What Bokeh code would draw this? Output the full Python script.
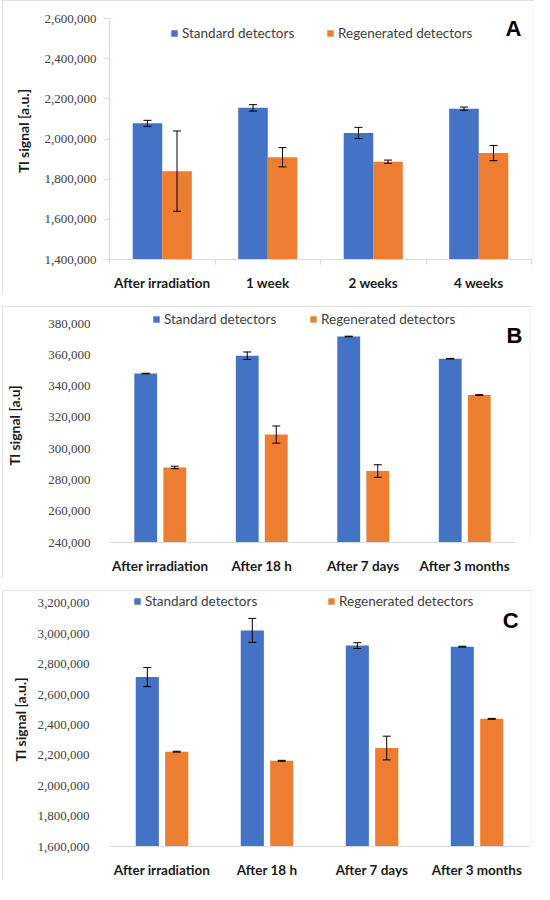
from bokeh.plotting import figure
from bokeh.models import (ColumnDataSource, FixedTicker, NumeralTickFormatter, Whisker,
                          TeeHead, Legend, LegendItem, Label, Range1d)
from bokeh.transform import dodge
from bokeh.layouts import column
from bokeh.embed import file_html
from bokeh.resources import INLINE

# ---------------- data ----------------
categories_a = ["After irradiation", "1 week", "2 weeks", "4 weeks"]
standard_a = [2078000, 2155000, 2030000, 2151000]
standard_a_err = [15000, 16000, 28000, 8000]
regenerated_a = [1840000, 1909000, 1887000, 1930000]
regenerated_a_err = [200000, 48000, 8000, 38000]
yticks_a = [1400000, 1600000, 1800000, 2000000, 2200000, 2400000, 2600000]

categories_b = ["After irradiation", "After 18 h", "After 7 days", "After 3 months"]
standard_b = [348000, 359400, 371700, 357500]
standard_b_err = [200, 2400, 200, 200]
regenerated_b = [288000, 309000, 285700, 334300]
regenerated_b_err = [800, 5500, 4000, 200]
yticks_b = [240000, 260000, 280000, 300000, 320000, 340000, 360000, 380000]

categories_c = ["After irradiation", "After 18 h", "After 7 days", "After 3 months"]
standard_c = [2715000, 3022000, 2922000, 2915000]
standard_c_err = [63000, 79000, 19000, 3000]
regenerated_c = [2224000, 2164000, 2248000, 2440000]
regenerated_c_err = [3000, 3000, 78000, 3000]
yticks_c = [1600000, 1800000, 2000000, 2200000, 2400000, 2600000, 2800000, 3000000, 3200000]

series_names = ["Standard detectors", "Regenerated detectors"]
panel_letters = ["A", "B", "C"]
ylabels = ["Tl signal [a.u.]", "Tl signal [a.u]", "Tl signal [a.u.]"]

BLUE = "#4472C4"
ORANGE = "#ED7D31"
SANS = "Lato"
SERIF = "Liberation Serif"
LEG_H = 20
EDGE = 2  # width of the light grey box drawn round each panel


def make_panel(cats, std, std_err, reg, reg_err, yticks, letter, ylabel, g):
    x0, y0, x1, y1 = g["box"]
    L, T, R, B = g["axes"]          # where the axes sit, page pixels
    Tf, Rf = y0 + EDGE, x1 - EDGE   # plotting frame reaches the panel box
    n = len(cats)
    band = (R - L) / n
    x_end = n + (Rf - R) / band
    per_px = (yticks[-1] - yticks[0]) / (B - T)
    y_end = yticks[-1] + (T - Tf) * per_px

    p = figure(x_range=Range1d(0, x_end), y_range=Range1d(yticks[0], y_end),
               width=x1 - x0, height=y1 - y0,
               output_backend="svg", toolbar_location=None,
               min_border_left=L - x0, min_border_right=x1 - Rf,
               min_border_top=Tf - y0, min_border_bottom=y1 - B,
               background_fill_color="white", border_fill_color="white",
               outline_line_color=None,
               styles={"outline": f"{EDGE}px solid #d9d9d9", "outline-offset": f"-{EDGE}px"})

    centers = [i + 0.5 for i in range(n)]
    src = ColumnDataSource(dict(
        x=centers, std=std, reg=reg,
        std_lo=[v - e for v, e in zip(std, std_err)],
        std_hi=[v + e for v, e in zip(std, std_err)],
        reg_lo=[v - e for v, e in zip(reg, reg_err)],
        reg_hi=[v + e for v, e in zip(reg, reg_err)],
    ))
    off, bw = g["offset"], g["bar_width"]
    r_std = p.vbar(x=dodge("x", -off), top="std", bottom=yticks[0],
                   width=bw, source=src, fill_color=BLUE, line_color=None)
    r_reg = p.vbar(x=dodge("x", off), top="reg", bottom=yticks[0],
                   width=bw, source=src, fill_color=ORANGE, line_color=None)
    for key, o in (("std", -off), ("reg", off)):
        w = Whisker(source=src, base=dodge("x", o),
                    upper=f"{key}_hi", lower=f"{key}_lo",
                    line_color="black", line_width=1, level="overlay",
                    upper_head=TeeHead(size=8, line_color="black", line_width=1),
                    lower_head=TeeHead(size=8, line_color="black", line_width=1))
        p.add_layout(w)

    # axes
    p.xgrid.grid_line_color = None
    p.ygrid.grid_line_color = None
    ya = p.yaxis[0]
    ya.ticker = FixedTicker(ticks=yticks)
    ya.formatter = NumeralTickFormatter(format="0,0")
    ya.bounds = (yticks[0], yticks[-1])
    ya.minor_tick_line_color = None
    ya.major_label_text_font = SERIF
    ya.major_label_text_font_size = "13px"
    ya.major_label_text_color = "#404040"
    ya.major_label_standoff = g["ylab_standoff"]
    if g["ticks"]:
        ya.axis_line_color = "#d9d9d9"
        ya.major_tick_line_color = "#d9d9d9"
        ya.major_tick_out = 5
        ya.major_tick_in = 0
    else:
        ya.axis_line_color = None
        ya.major_tick_line_color = None
    ya.axis_label = ylabel
    ya.axis_label_text_font = SANS
    ya.axis_label_text_font_style = "bold"
    ya.axis_label_text_font_size = "14px"
    ya.axis_label_text_color = "#1a1a1a"
    ya.axis_label_standoff = g["ytitle_standoff"]

    xa = p.xaxis[0]
    xa.ticker = FixedTicker(ticks=centers, minor_ticks=list(range(n + 1)))
    xa.major_label_overrides = {c: name for c, name in zip(centers, cats)}
    xa.bounds = (0, n)
    xa.axis_line_color = "#d9d9d9"
    xa.major_tick_line_color = None
    if g["ticks"]:
        xa.minor_tick_line_color = "#d9d9d9"
        xa.minor_tick_out = 5
        xa.minor_tick_in = 0
    else:
        xa.minor_tick_line_color = None
    xa.major_label_text_font = SANS
    xa.major_label_text_font_style = "bold"
    xa.major_label_text_font_size = "13.5px"
    xa.major_label_text_color = "#1a1a1a"
    xa.major_label_standoff = 9

    # legends (one per item, placed where the reference has them)
    for r, name, sq in ((r_std, series_names[0], g["leg"][0]), (r_reg, series_names[1], g["leg"][1])):
        lg = Legend(items=[LegendItem(label=name, renderers=[r])],
                    location=(sq - L, B - g["leg_y"] - LEG_H / 2),
                    orientation="horizontal", padding=0, margin=0,
                    border_line_color=None, background_fill_alpha=0,
                    glyph_width=8, glyph_height=8, label_height=LEG_H,
                    label_standoff=4,
                    label_text_font=SANS, label_text_font_size="13.5px",
                    label_text_color="#404040")
        p.add_layout(lg)

    lx, ly = g["letter"]
    p.add_layout(Label(x=n, y=yticks[-1], text=letter,
                       x_offset=lx - R, y_offset=-(ly - T),
                       text_align="right", text_baseline="alphabetic",
                       text_font="Liberation Sans", text_font_style="bold",
                       text_font_size="22px", text_color="black"))
    return p


geoms = [
    dict(box=(10, 8, 542, 302), axes=(113, 26, 539, 267), offset=0.14, bar_width=0.28,
         ylab_standoff=8, ytitle_standoff=10, ticks=True,
         leg=(174, 330), leg_y=41, letter=(529, 36)),
    dict(box=(10, 314, 540, 586), axes=(117, 331, 523, 550), offset=0.143, bar_width=0.225,
         ylab_standoff=13, ytitle_standoff=22, ticks=False,
         leg=(160, 317), leg_y=327, letter=(530, 343)),
    dict(box=(10, 598, 541, 888), axes=(112, 611, 537, 857), offset=0.14, bar_width=0.22,
         ylab_standoff=14, ytitle_standoff=6, ticks=False,
         leg=(136, 330), leg_y=612, letter=(526, 628)),
]

pa = make_panel(categories_a, standard_a, standard_a_err, regenerated_a, regenerated_a_err,
                yticks_a, panel_letters[0], ylabels[0], geoms[0])
pb = make_panel(categories_b, standard_b, standard_b_err, regenerated_b, regenerated_b_err,
                yticks_b, panel_letters[1], ylabels[1], geoms[1])
pc = make_panel(categories_c, standard_c, standard_c_err, regenerated_c, regenerated_c_err,
                yticks_c, panel_letters[2], ylabels[2], geoms[2])

layout = column(pa, pb, pc, spacing=12, margin=(0, 0, 0, 2))
open("out.html", "w").write(file_html(layout, INLINE))
